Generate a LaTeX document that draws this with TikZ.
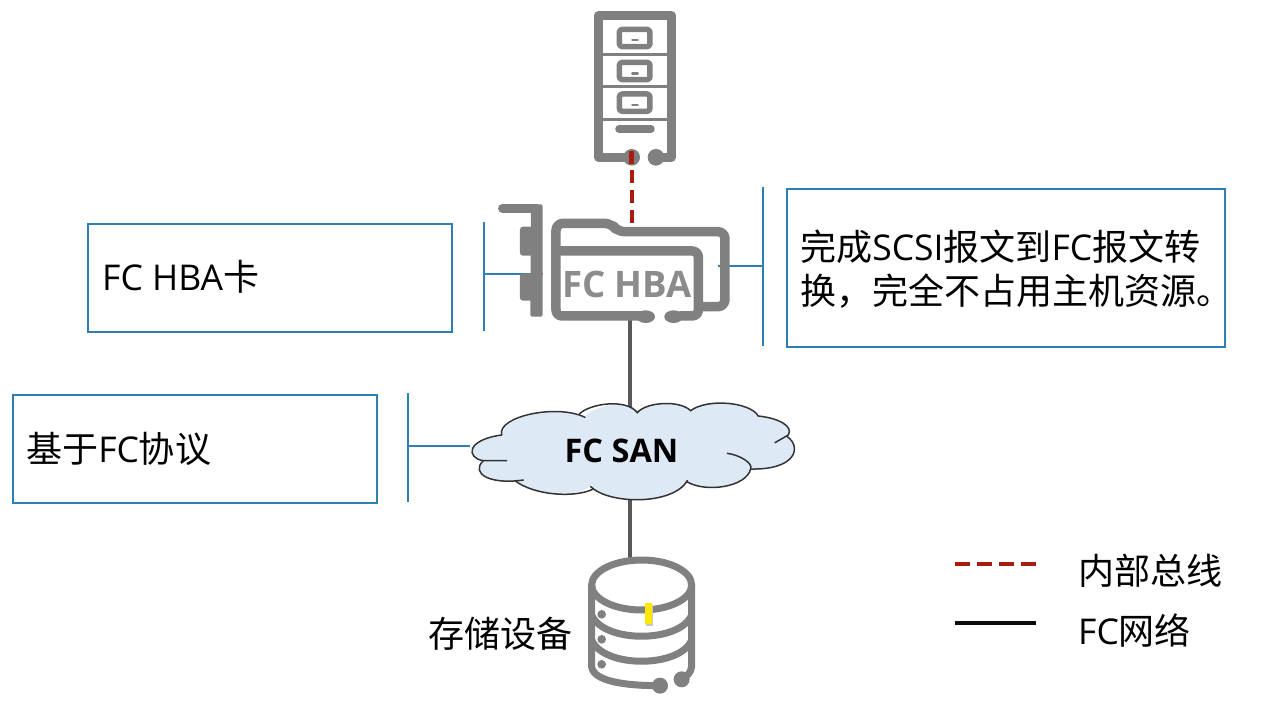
\documentclass[tikz,border=0pt]{standalone}
\usepackage{fontspec}
\setmainfont{Open Sans}
\newfontfamily\cjk[Scale=1.015]{Noto Sans CJK SC}
\definecolor{boxblue}{HTML}{2F7FB5}
\definecolor{icongray}{HTML}{808080}
\definecolor{hbatext}{HTML}{8C8C8C}
\definecolor{linkgray}{HTML}{595959}
\definecolor{busred}{HTML}{A81C10}
\definecolor{cloudfill}{HTML}{DEE9F6}
\definecolor{barblack}{HTML}{0A0A0A}
\usetikzlibrary{shapes.geometric,calc}
\tikzset{
  callout/.style={draw=boxblue,line width=2pt,fill=white,inner sep=0pt,anchor=north west},
  bracketline/.style={draw=boxblue,line width=2pt},
  lbl/.style={inner sep=0pt,font=\fontsize{35.5}{46}\selectfont,align=left},
  icon/.style={draw=icongray,line cap=round,line join=round},
  fcline/.style={draw=linkgray,line width=4pt},
  busline/.style={draw=busred,line width=4.5pt,dash pattern=on 13pt off 7pt},
}
\begin{document}
\begin{tikzpicture}[x=1pt,y=-1pt]
\useasboundingbox (0,0) rectangle (1286,705);
\fill[white] (0,0) rectangle (1286,705);
% anchor coordinates
\coordinate (srvport) at (632,150);
\coordinate (hbatop) at (632,228);
\coordinate (hbabot) at (630,320);
\coordinate (cloudtop) at (630,410);
\coordinate (cloudbot) at (630,495);
\coordinate (dbtop) at (630,560);
\coordinate (hbaL) at (543,274);
\coordinate (hbaR) at (718,266);
\coordinate (cloudL) at (470,446);
% brackets
\coordinate (b1a) at (484,222); \coordinate (b1b) at (484,331); \coordinate (b1m) at (484,274);
\coordinate (b2a) at (763,187); \coordinate (b2b) at (763,346); \coordinate (b2m) at (763,266);
\coordinate (b3a) at (408,393); \coordinate (b3b) at (408,502); \coordinate (b3m) at (408,446);
\draw[bracketline] (b1a) -- (b1b);
\draw[bracketline] (b1m) -- (hbaL);
\draw[bracketline] (b2a) -- (b2b);
\draw[bracketline] (b2m) -- (hbaR);
\draw[bracketline] (b3a) -- (b3b);
\draw[bracketline] (b3m) -- (cloudL);
% connectors
\draw[busline] (srvport) -- (hbatop);
\draw[fcline] (hbabot) -- (cloudtop);
\draw[fcline] (cloudbot) -- (dbtop);
% server
\begin{scope}[shift={(560,0)},x=0.3333pt,y=-0.3333pt]
\draw[icon,line width=8.5pt] (215,472) -- (115,472) -- (115,47) -- (335,47) -- (335,472) -- (288,472);
\foreach \y in {165,260,358} \draw[icon,line width=3pt] (115,\y) -- (335,\y);
\foreach \y/\h in {88/52,187/52,282/52} {
  \draw[icon,line width=5.5pt,rounded corners=3pt] (178,\y) rectangle (270,\y+\h);
}
\draw[icon,line width=2.6pt] (217,120) -- (233,120);
\draw[icon,line width=2.6pt] (217,220) -- (233,220);
\draw[icon,line width=2.6pt] (217,315) -- (233,315);
\draw[icon,line width=7.5pt] (177,387) -- (273,387);
\fill[icongray] (215,472) circle (25);
\fill[icongray] (288,472) circle (25);
\draw[draw=busred,line width=4.5pt] (215,452) -- (215,492);
\end{scope}
% HBA card
\begin{scope}[shift={(470,190)},x=0.3333pt,y=-0.3333pt]
\draw[icon,line width=8.5pt] (97,55) -- (200,55);
\fill[icongray,rounded corners=2pt] (183,43) -- (218,43) -- (218,380) -- (181,380) -- cycle;
\fill[icongray,rounded corners=3pt] (150,110) rectangle (190,197);
\fill[icongray,rounded corners=3pt] (150,250) rectangle (190,332);
\draw[icon,line width=9.5pt,rounded corners=7pt] (258,185) -- (258,100) -- (425,100) -- (442,125) -- (765,125) -- (765,350) -- (688,350);
\draw[icon,line width=9.5pt,rounded corners=6pt] (258,183) -- (685,183) -- (685,378) -- (630,378);
\draw[icon,line width=9.5pt,rounded corners=6pt] (258,183) -- (258,378) -- (520,378);
\fill[icongray] (527,380) ellipse (28 and 19);
\fill[icongray] (611,380) ellipse (28 and 19);
\end{scope}
\node[inner sep=0pt,text=hbatext,font=\fontsize{36.5}{40}\selectfont\bfseries] (hbalabel) at (627,284) {FC HBA};
% database
\begin{scope}[shift={(570,540)},x=0.3333pt,y=-0.3333pt]
\draw[icon,line width=7pt,fill=white] (215,135) ellipse (150 and 75);
\draw[icon,line width=7pt] (65,135) -- (65,380) .. controls (70,425) and (170,437) .. (265,437);
\draw[icon,line width=7pt] (365,135) -- (365,380) .. controls (362,400) and (350,410) .. (335,415);
\draw[icon,line width=7pt] (65,225) .. controls (100,310) and (330,310) .. (365,225);
\draw[icon,line width=7pt] (65,300) .. controls (100,385) and (330,385) .. (365,300);
\fill[icongray] (95,223) circle (13);
\fill[icongray] (95,298) circle (13);
\fill[icongray] (95,373) circle (13);
\fill[icongray] (270,437) circle (24);
\fill[icongray] (335,418) circle (24);
\fill[gray!45] (229,195) rectangle (249,258);
\fill[yellow!90!orange] (226,190) rectangle (245,252);
\end{scope}
% cloud
\begin{scope}[shift={(460,390)},x=0.3333pt,y=-0.3333pt]
\path[fill=cloudfill] (125,135) .. controls (130,80) and (290,40) .. (375,82)
 .. controls (390,50) and (500,25) .. (532,68)
 .. controls (560,35) and (660,30) .. (692,62)
 .. controls (740,25) and (870,35) .. (895,78)
 .. controls (960,85) and (1000,110) .. (982,140)
 .. controls (1025,170) and (1010,240) .. (872,237)
 .. controls (860,290) and (740,310) .. (680,275)
 .. controls (640,345) and (450,345) .. (392,290)
 .. controls (340,325) and (220,315) .. (165,272)
 .. controls (90,285) and (30,250) .. (70,212)
 .. controls (20,205) and (15,150) .. (125,135) -- cycle;
\draw[black!80,line width=1.5pt,line cap=round]
 (125,135) .. controls (110,80) and (290,40) .. (375,82);
\draw[black!80,line width=1.5pt,line cap=round] (358,72) .. controls (390,40) and (500,25) .. (532,68)
 .. controls (560,35) and (660,30) .. (692,62)
 .. controls (740,25) and (870,35) .. (895,78)
 .. controls (960,85) and (1000,110) .. (985,135) -- (945,158);
\draw[black!80,line width=1.5pt,line cap=round] (982,140) .. controls (1025,170) and (1010,240) .. (872,237);
\draw[black!80,line width=1.5pt,line cap=round] (802,190) .. controls (840,195) and (880,220) .. (872,237)
 .. controls (860,290) and (740,310) .. (680,275);
\draw[black!80,line width=1.5pt,line cap=round] (682,272) .. controls (640,345) and (450,345) .. (392,290);
\draw[black!80,line width=1.5pt,line cap=round] (398,298) .. controls (340,325) and (220,315) .. (165,272);
\draw[black!80,line width=1.5pt,line cap=round] (190,270) .. controls (90,285) and (30,250) .. (70,212);
\draw[black!80,line width=1.5pt,line cap=round] (140,212) -- (70,212) .. controls (20,205) and (15,150) .. (125,135);
\end{scope}
\node[inner sep=0pt,font=\fontsize{32.5}{40}\selectfont\bfseries] (cloud) at (621.5,451) {FC SAN};
% callouts
\node[callout,minimum width=364pt,minimum height=108pt] (boxhba) at (87,223) {};
\node[lbl,anchor=west] (txthba) at (102,277) {FC HBA{\cjk 卡}};
\node[callout,minimum width=438pt,minimum height=158pt] (boxconv) at (786,188) {};
\node[lbl,anchor=west] (txtconv1) at (800,247) {{\cjk 完成}SCSI{\cjk 报文到}FC{\cjk 报文转}};
\node[lbl,anchor=west] (txtconv2) at (800,291) {{\cjk 换，完全不占用主机资源。}};
\node[callout,minimum width=364pt,minimum height=108pt] (boxfc) at (12,394) {};
\node[lbl,anchor=west] (txtfc) at (26,449) {{\cjk 基于}FC{\cjk 协议}};
% labels and legend
\node[lbl,anchor=west] (txtdb) at (428,634) {{\cjk 存储设备}};
\coordinate (lg1a) at (955,564); \coordinate (lg1b) at (1036,564);
\coordinate (lg2a) at (955,623); \coordinate (lg2b) at (1036,623);
\draw[busline,dash pattern=on 15pt off 7pt] (lg1a) -- (lg1b);
\draw[draw=barblack,line width=4pt] (lg2a) -- (lg2b);
\node[lbl,anchor=west] (txtlg1) at (1078,571) {{\cjk 内部总线}};
\node[lbl,anchor=west] (txtlg2) at (1078,631) {FC{\cjk 网络}};
\end{tikzpicture}
\end{document}
